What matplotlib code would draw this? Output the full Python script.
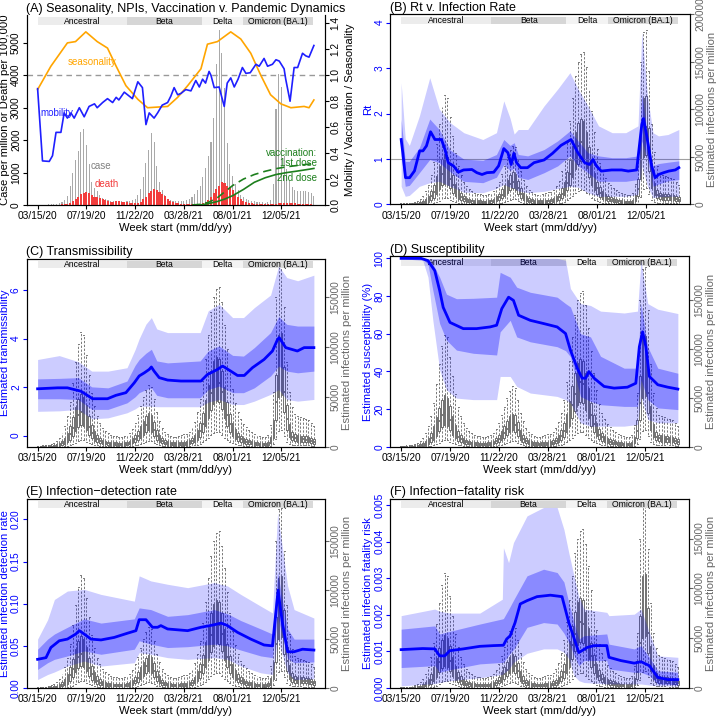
import numpy as np
import matplotlib.pyplot as plt

plt.rcParams['font.family'] = ['Liberation Sans', 'DejaVu Sans']

W, H = 717, 718

weeks = np.arange(103)
date_ticks = [0, 18, 36, 54, 72, 90]
date_labels = ['03/15/20', '07/19/20', '11/22/20', '03/28/21', '08/01/21', '12/05/21']

variant_names = ['Ancestral', 'Beta', 'Delta', 'Omicron (BA.1)']
variant_from = [0, 33, 60.7, 75.8]
variant_to = [33, 60.7, 75.8, 101.7]
variant_cols = ['#ececec', '#d6d6d6', '#f3f3f3', '#d9d9d9']

# ---- panel A: cases per million, deaths per 100,000 (weekly) ----
cases = [2, 5, 10, 15, 20, 25, 30, 40, 60, 90,
         150, 280, 600, 1000, 1400, 1650, 2250, 2340, 1850, 1250,
         700, 520, 420, 300, 220, 170, 140, 120, 120, 130,
         120, 110, 100, 110, 130, 160, 200, 300, 500, 850,
         1300, 1700, 2230, 1950, 1200, 700, 450, 300, 200, 150,
         120, 110, 110, 120, 130, 150, 190, 250, 330, 450,
         600, 850, 1150, 1500, 1930, 2690, 4330, 5390, 4690, 3600,
         1900, 1260, 900, 650, 450, 320, 240, 180, 150, 130,
         110, 100, 90, 80, 70, 80, 150, 650, 2950, 4030,
         3620, 1520, 1100, 750, 550, 460, 440, 440, 430, 420,
         400, 360, 270]
deaths = [0, 0, 1, 2, 3, 5, 8, 10, 15, 20,
          30, 45, 70, 110, 170, 250, 330, 380, 400, 370,
          320, 260, 240, 230, 190, 140, 110, 100, 100, 110,
          110, 100, 90, 80, 70, 60, 60, 70, 100, 170,
          260, 360, 440, 490, 460, 400, 350, 270, 180, 120,
          80, 60, 50, 40, 40, 35, 30, 30, 30, 35,
          40, 60, 100, 160, 250, 360, 480, 600, 710, 690,
          600, 540, 450, 350, 250, 170, 120, 90, 70, 55,
          45, 40, 35, 30, 30, 30, 30, 35, 45, 60,
          70, 75, 75, 70, 60, 50, 40, 35, 30, 25,
          20, 20, 15]

mob_wk = [0, 1.8, 4.3, 5.5, 6.8, 8.6, 9.8, 11, 12.3, 13.5, 15.4, 17.2, 19, 21, 22, 24, 25.8,
          27.7, 29, 30, 32, 33.8, 35, 37, 38.7, 40, 41.2, 43, 44.3, 46, 48, 49.2, 50.4, 51.7,
          52.9, 54.7, 56.6, 58.4, 59.7, 60.9, 62, 63.3, 64, 65.2, 67, 68.9, 70, 71.3, 72.6, 74,
          75.6, 76.9, 78.5, 80.6, 81.8, 83.6, 84.9, 86.7, 88, 89.2, 91, 91.6, 93.2, 94.7, 96,
          97.8, 99, 100.2, 102]
mobility = [0.897, 0.34, 0.336, 0.38, 0.56, 0.56, 0.71, 0.67, 0.71, 0.67, 0.75, 0.68, 0.76, 0.78,
            0.75, 0.79, 0.82, 0.79, 0.83, 0.81, 0.87, 0.84, 0.82, 0.95, 0.905, 0.62, 0.71, 0.67,
            0.71, 0.77, 0.79, 0.84, 0.905, 0.85, 0.86, 0.89, 0.88, 0.96, 0.91, 0.97, 0.94, 1.03,
            1.0, 0.905, 0.91, 0.76, 0.94, 0.98, 0.91, 0.97, 1.06, 1.015, 1.02, 1.085, 1.07, 1.13,
            1.07, 1.085, 1.12, 1.11, 1.05, 0.97, 0.80, 1.06, 1.06, 1.17, 1.15, 1.14, 1.23]

seas_wk = [0, 4.9, 11, 14, 17.8, 22, 25.8, 29, 32.6, 37, 40.6, 48, 51.7, 55.4, 60.3, 62.7,
           66.4, 71.3, 75, 78.7, 82.4, 86, 89.8, 93.5, 98.4, 100.2, 102]
seasonality = [0.89, 1.07, 1.25, 1.26, 1.335, 1.26, 1.21, 1.07, 0.92, 0.815, 0.75, 0.76, 0.83,
               0.92, 1.05, 1.24, 1.26, 1.335, 1.28, 1.17, 1.0, 0.85, 0.78, 0.75, 0.76, 0.75, 0.81]

vac1_wk = [57, 60, 63, 66, 69, 72, 76, 80, 84, 88, 92, 96, 100, 102]
vac1 = [0, 0.005, 0.02, 0.05, 0.10, 0.15, 0.20, 0.235, 0.26, 0.28, 0.295, 0.305, 0.315, 0.32]
vac2_wk = [60, 63, 66, 69, 72, 76, 80, 84, 88, 92, 96, 100, 102]
vac2 = [0, 0.01, 0.025, 0.045, 0.072, 0.12, 0.175, 0.21, 0.235, 0.25, 0.262, 0.275, 0.282]

# ---- estimated infections per million (thousands): weekly box stats ----
inf_med = [0.2, 0.2, 0.3, 0.3, 0.4, 0.6, 0.9, 1.4, 2.2, 3.5,
           5.5, 8.5, 13, 19, 26, 32, 35, 33, 27, 20,
           14, 10, 7.5, 5.5, 4.5, 3.8, 3.3, 3, 2.8, 2.7,
           2.6, 2.6, 2.8, 3.2, 4, 5.5, 7.5, 10.5, 14, 18,
           22, 24, 22, 17, 11, 7.5, 5.5, 4.2, 3.5, 3,
           2.8, 2.7, 2.8, 3, 3.2, 3.5, 4.2, 5.5, 7.5, 11,
           16, 23, 32, 43, 54, 62, 66, 64, 55, 43,
           32, 23, 17, 12.5, 9.5, 7.5, 6, 5, 4.3, 3.7,
           3.2, 2.9, 2.6, 2.4, 2.4, 3, 6, 16, 45, 80,
           82, 55, 28, 15, 10, 8.5, 8, 7.8, 7.5, 7.2,
           6.8, 6, 5]
inf_q1 = [0.1, 0.1, 0.1, 0.1, 0.2, 0.3, 0.4, 0.7, 1.1, 1.8,
          3, 4.5, 7, 11, 16, 20, 22, 21, 17, 12,
          8.5, 6, 4.5, 3.5, 2.8, 2.3, 2, 1.8, 1.7, 1.6,
          1.6, 1.6, 1.7, 2, 2.5, 3.4, 4.7, 6.5, 9, 12,
          15, 17, 15, 11, 7, 4.8, 3.4, 2.6, 2.1, 1.8,
          1.7, 1.6, 1.7, 1.8, 2, 2.1, 2.6, 3.4, 4.7, 7,
          10, 15, 21, 29, 37, 43, 46, 45, 38, 29,
          21, 15, 11, 8, 6, 4.8, 3.8, 3.2, 2.7, 2.3,
          2, 1.8, 1.6, 1.5, 1.5, 1.9, 3.5, 9, 27, 50,
          52, 35, 17, 9.5, 6.5, 5.5, 5.2, 5, 4.8, 4.6,
          4.4, 3.9, 3.2]
inf_q3 = [0.4, 0.4, 0.5, 0.6, 0.8, 1.1, 1.6, 2.5, 3.8, 6,
          9, 14, 21, 30, 40, 48, 53, 50, 42, 31,
          22, 16, 12, 9, 7.2, 6, 5.2, 4.8, 4.5, 4.3,
          4.2, 4.2, 4.5, 5, 6.2, 8.5, 11.5, 16, 21, 26,
          31, 34, 32, 25, 17, 12, 8.5, 6.6, 5.5, 4.8,
          4.4, 4.3, 4.5, 4.8, 5, 5.5, 6.6, 8.5, 11.5, 17,
          24, 34, 47, 62, 76, 86, 90, 88, 76, 60,
          45, 33, 24, 18, 14, 11, 9, 7.6, 6.6, 5.7,
          5, 4.5, 4.1, 3.8, 3.8, 4.8, 10, 27, 72, 112,
          114, 80, 42, 23, 15, 12.5, 11.5, 11, 10.8, 10.4,
          9.8, 8.8, 7.5]
inf_lo = [0, 0, 0, 0, 0, 0, 0, 0.1, 0.2, 0.3,
          0.5, 1, 1.5, 2.5, 4, 6, 7, 7, 5, 4,
          3, 2, 1.5, 1, 0.8, 0.7, 0.6, 0.5, 0.5, 0.5,
          0.5, 0.5, 0.5, 0.6, 0.7, 1, 1.4, 2, 2.8, 3.8,
          5, 6, 5.5, 4, 2.5, 1.6, 1.1, 0.8, 0.6, 0.5,
          0.5, 0.5, 0.5, 0.5, 0.6, 0.6, 0.8, 1, 1.4, 2,
          3, 4.5, 6.5, 9, 12, 14, 15, 15, 12, 9,
          7, 5, 3.5, 2.5, 2, 1.5, 1.2, 1, 0.8, 0.7,
          0.6, 0.5, 0.5, 0.4, 0.4, 0.5, 1, 3, 8, 16,
          17, 11, 5, 3, 2, 1.8, 1.7, 1.6, 1.5, 1.5,
          1.4, 1.2, 1]
inf_hi = [1, 1, 1.2, 1.5, 2, 3, 4, 6, 9, 14,
          21, 31, 45, 64, 85, 103, 115, 112, 92, 72,
          54, 41, 31, 24, 19, 16, 14, 12, 11, 11,
          10, 10, 11, 12, 14, 18, 24, 32, 41, 50,
          57, 62, 60, 48, 35, 26, 19, 15, 13, 11,
          10, 10, 11, 12, 13, 13, 15, 19, 25, 35,
          48, 66, 88, 112, 135, 150, 158, 160, 145, 122,
          98, 76, 58, 44, 35, 28, 23, 20, 17, 15,
          13, 12, 11, 10, 10, 12, 22, 55, 150, 182,
          184, 140, 85, 55, 40, 33, 31, 30, 29, 28,
          27, 24, 21]

# ---- panel B: Rt ----
b_band_wk = [0, 1.5, 3, 6.7, 10.5, 14, 18, 23, 30, 35, 37.7, 40, 41.5, 43, 46.5, 52.5, 57.5,
             62, 65, 68.6, 72.5, 77.5, 82.5, 87, 88.4, 90.5, 92.5, 94.5, 98, 102]
b_hi95 = [2.68, 1.45, 1.30, 1.95, 2.79, 2.10, 1.80, 1.58, 1.43, 1.58, 2.28, 1.90, 1.55, 1.65,
          1.65, 2.17, 2.54, 2.90, 2.54, 2.17, 1.73, 1.58, 1.58, 1.73, 3.79, 2.39, 1.58, 1.51,
          1.54, 1.65]
b_hi50 = [1.88, 0.95, 0.95, 1.25, 1.88, 1.65, 1.20, 1.00, 0.97, 1.10, 1.43, 1.30, 1.36, 1.10,
          1.07, 1.21, 1.40, 1.62, 1.40, 1.14, 1.07, 1.03, 1.03, 1.07, 2.43, 1.51, 0.85, 0.90,
          0.93, 0.96]
b_lo50 = [1.07, 0.40, 0.42, 0.70, 0.99, 0.92, 0.72, 0.51, 0.48, 0.60, 0.88, 0.75, 0.80, 0.60,
          0.55, 0.70, 0.85, 1.07, 0.85, 0.70, 0.51, 0.51, 0.51, 0.55, 1.40, 0.99, 0.40, 0.45,
          0.52, 0.55]
b_lo95 = [0.40, 0.18, 0.20, 0.40, 0.48, 0.51, 0.40, 0.27, 0.26, 0.35, 0.44, 0.38, 0.36, 0.30,
          0.26, 0.29, 0.35, 0.40, 0.38, 0.26, 0.18, 0.18, 0.18, 0.22, 0.85, 0.40, 0.15, 0.17,
          0.18, 0.18]
b_med_wk = [0, 0.6, 1.6, 3.1, 4.9, 6.8, 8, 9.3, 10.8, 12.4, 14.8, 16.1, 17.3, 19.2, 21, 22.9,
            26, 27.8, 29.7, 31.5, 34, 35.8, 37.7, 39.2, 40.4, 41.4, 42.4, 43.9, 46.4, 48.8, 52.5,
            55.6, 58.7, 62.4, 64.9, 67.4, 69.2, 70.5, 71.7, 73.5, 77.3, 81, 83.4, 86.5, 88.4, 89,
            90.2, 92, 93.3, 94.6, 96.4, 98.3, 100.7, 102]
b_med = [1.43, 1.14, 0.59, 0.59, 0.74, 1.18, 1.18, 1.29, 1.6, 1.43, 1.43, 1.21, 0.92, 0.85,
         0.71, 0.76, 0.77, 0.70, 0.66, 0.70, 0.71, 0.85, 1.23, 1.14, 0.88, 1.125, 0.92, 0.81,
         0.81, 0.92, 0.98, 1.125, 1.3, 1.43, 1.14, 0.92, 0.88, 0.99, 0.85, 0.735, 0.76, 0.76,
         0.735, 0.76, 1.76, 1.89, 1.51, 0.85, 0.59, 0.66, 0.70, 0.735, 0.76, 0.81]

# ---- panel C: transmissibility ----
c_band_wk = [0, 8, 15, 20, 26, 33, 36, 37.5, 40, 42, 44, 48, 60, 63, 67, 72, 76, 80, 86, 89,
             92, 96, 102]
c_hi95 = [3.14, 3.3, 3.05, 2.66, 2.66, 2.8, 3.55, 4.0, 4.6, 4.87, 4.4, 4.25, 4.25, 5.15, 5.42,
          4.87, 4.87, 5.28, 5.8, 7.0, 6.52, 6.39, 6.62]
c_hi50 = [2.34, 2.36, 2.39, 2.01, 1.97, 2.25, 2.9, 3.14, 3.4, 3.56, 3.08, 3.0, 3.08, 3.49, 3.70,
          3.31, 3.28, 3.63, 4.25, 4.91, 4.59, 4.52, 4.52]
c_lo50 = [1.52, 1.52, 1.49, 1.08, 1.08, 1.35, 1.6, 1.77, 1.9, 1.97, 1.66, 1.56, 1.56, 1.9, 2.04,
          1.77, 1.77, 1.97, 2.46, 2.87, 2.66, 2.59, 2.66]
c_lo95 = [1.0, 1.02, 1.08, 0.69, 0.73, 0.94, 1.1, 1.21, 1.21, 1.21, 1.19, 1.19, 1.19, 1.38, 1.49,
          1.28, 1.28, 1.42, 1.70, 1.9, 1.49, 1.42, 1.49]
c_med_wk = [0, 7.4, 11, 16, 20.3, 25.8, 28.9, 32.6, 35.7, 37.5, 39.4, 41.2, 42, 43, 44.9, 48,
            52.9, 60.3, 62.7, 66.4, 68.3, 71.3, 73.8, 76.3, 79.3, 83.6, 86.7, 88.6, 89.2, 91.6,
            95.9, 98.4, 102]
c_med = [1.93, 1.97, 1.97, 1.83, 1.52, 1.52, 1.66, 1.77, 2.18, 2.46, 2.59, 2.73, 2.83, 2.66,
         2.39, 2.29, 2.25, 2.25, 2.52, 2.73, 2.87, 2.66, 2.48, 2.48, 2.8, 3.14, 3.49, 3.97, 4.04,
         3.63, 3.49, 3.63, 3.63]

# ---- panel D: susceptibility (%) ----
d_band_wk = [0, 8, 9.9, 11.7, 14.2, 16.7, 20.4, 26.6, 35.2, 36.5, 40.2, 42.6, 47.6, 57.5, 60.6,
             62.4, 66.1, 69.8, 73.5, 82.2, 87.1, 88.4, 90.9, 94.6, 102]
d_hi95 = [100, 100, 100, 100, 100, 100, 100, 100, 100, 100, 100, 100, 100, 100, 99, 84, 76, 75,
          72, 71, 72, 98.8, 76, 73, 70.7]
d_hi50 = [100, 100, 99.5, 97, 90, 81, 78.6, 78.8, 79.4, 92.6, 90, 84.7, 82, 79.4, 76, 74.2, 60,
          58.3, 48, 41.7, 41.7, 76, 53, 41.7, 39]
d_lo50 = [100, 99.5, 97, 83, 65.4, 56.6, 51.3, 49.6, 48.7, 61, 67.1, 58.3, 55.7, 53.1, 51, 47.8,
          26.7, 24.1, 22.3, 21.4, 21.4, 35.5, 25, 20.6, 19.7]
d_lo95 = [100, 98.8, 90, 67, 40.8, 30.2, 25.8, 25, 25, 37.3, 37.3, 32, 28.5, 26.7, 25, 23.2, 12.7,
          10.9, 10.9, 10.9, 11.8, 26.7, 14.4, 12.7, 12.7]
d_med_wk = [0, 7.4, 9.9, 12.4, 14.2, 15.5, 18, 22.9, 27.8, 32.8, 35.2, 37.1, 39.6, 41.4, 43.3,
            47.6, 52.5, 57.5, 60.6, 62.4, 64.9, 66.7, 68, 69.2, 71.1, 74.8, 78.5, 83.4, 86.5, 87.8,
            89, 90.2, 91.5, 94.6, 98.3, 102]
d_med = [100, 100, 98.8, 93.5, 83, 74, 66, 62.7, 62.7, 63.6, 64.5, 73.3, 79.4, 77.7, 69.8, 67.1,
         65.4, 63.6, 60.1, 51.3, 41.7, 36.4, 36.4, 39.9, 36.4, 32, 31.1, 31.6, 33.7, 53.1, 61,
         53.1, 37.3, 32.9, 31.6, 30.6]

# ---- panel E: infection-detection rate ----
e_band_wk = [0, 3.7, 6.2, 11, 17.2, 23.4, 35.7, 37.5, 41.8, 48, 55.4, 65.2, 70.1, 75, 82.4, 86.7,
             88.6, 92.3, 94.7, 102]
e_hi95 = [0.058, 0.081, 0.105, 0.115, 0.117, 0.111, 0.103, 0.133, 0.127, 0.123, 0.119, 0.125,
          0.121, 0.111, 0.097, 0.089, 0.208, 0.121, 0.093, 0.083]
e_hi50 = [0.046, 0.058, 0.064, 0.072, 0.082, 0.077, 0.082, 0.095, 0.093, 0.085, 0.087, 0.093,
          0.088, 0.080, 0.070, 0.064, 0.137, 0.070, 0.058, 0.058]
e_lo50 = [0.022, 0.030, 0.034, 0.038, 0.044, 0.040, 0.046, 0.056, 0.052, 0.048, 0.049, 0.052,
          0.050, 0.045, 0.038, 0.036, 0.085, 0.035, 0.030, 0.031]
e_lo95 = [0.010, 0.016, 0.019, 0.026, 0.032, 0.026, 0.030, 0.042, 0.040, 0.036, 0.034, 0.036,
          0.034, 0.026, 0.018, 0.016, 0.058, 0.018, 0.010, 0.011]
e_med_wk = [0, 3.1, 4.9, 8, 11, 14.1, 15.4, 17.2, 19.7, 23.4, 28.3, 33.2, 36.3, 37.5, 40, 42.4,
            44.3, 45.5, 48, 55.4, 60.3, 65.2, 67.7, 70.1, 73.8, 78.7, 83.6, 86.7, 88.8, 89.4,
            90.4, 92.3, 94.7, 97.8, 102]
e_med = [0.034, 0.036, 0.048, 0.056, 0.058, 0.064, 0.068, 0.064, 0.058, 0.057, 0.060, 0.065,
         0.068, 0.081, 0.081, 0.072, 0.072, 0.074, 0.070, 0.068, 0.072, 0.075, 0.077, 0.074,
         0.066, 0.058, 0.051, 0.050, 0.116, 0.100, 0.077, 0.043, 0.043, 0.046, 0.045]

# ---- panel F: infection-fatality risk ----
f_band_wk = [0, 12.4, 14.2, 17.9, 29, 37.3, 37.7, 39.6, 41.4, 46.4, 52.5, 57.5, 60, 61.8, 63.7,
             65.5, 67.4, 75.8, 76.6, 85.9, 88.4, 91.5, 94.6, 102]
f_hi95 = [0.00198, 0.00216, 0.0021, 0.00205, 0.00205, 0.00243, 0.00384, 0.00343, 0.00398,
          0.00471, 0.00494, 0.00494, 0.00434, 0.0037, 0.00307, 0.0025, 0.00216, 0.00207, 0.00198,
          0.00202, 0.00216, 0.00152, 0.00088, 0.00084]
f_hi50 = [0.00161, 0.0017, 0.00148, 0.00155, 0.00175, 0.00189, 0.0019, 0.00215, 0.0024, 0.00307,
          0.00325, 0.00316, 0.0029, 0.00234, 0.0018, 0.00134, 0.00143, 0.00148, 0.0012, 0.00107,
          0.00116, 0.00084, 0.00047, 0.00043]
f_lo50 = [0.00056, 0.00061, 0.00043, 0.0005, 0.00066, 0.0007, 0.0007, 0.0009, 0.00105, 0.00166,
          0.00179, 0.00175, 0.0015, 0.00125, 0.0009, 0.00061, 0.00075, 0.00075, 0.00052, 0.00043,
          0.00043, 0.00034, 0.00011, 0.00009]
f_lo95 = [0.00006, 0.00012, 0.00015, 0.0002, 0.00028, 0.00037, 0.0004, 0.0005, 0.0007, 0.00095,
          0.00107, 0.00107, 0.00098, 0.0008, 0.00034, 0.0002, 0.00015, 0.00011, 0.00011, 0.00011,
          0.00011, 0.00008, 0.00006, 0.00005]
f_med_wk = [0, 8, 12.4, 14.2, 16.1, 17.9, 22.9, 29, 34, 37.7, 38.9, 40.2, 42, 43.9, 46.4, 50.1,
            55, 59.3, 61.8, 65.5, 68.6, 71.1, 75.8, 76.6, 81, 85.9, 88.4, 91.5, 94.6, 98.3, 102]
f_med = [0.00105, 0.00108, 0.00107, 0.00088, 0.00088, 0.00102, 0.00107, 0.00114, 0.00116,
         0.00117, 0.00134, 0.00143, 0.00179, 0.00230, 0.00239, 0.00250, 0.00254, 0.00250,
         0.00179, 0.00097, 0.00111, 0.00116, 0.00116, 0.00084, 0.00075, 0.00068, 0.00072,
         0.00061, 0.00029, 0.00023, 0.00023]

BOXGRAY = '#707070'
RGRAY = '#666666'
FS_TICK = 7.3
FS_LAB = 8.1


def rect(x0, y0, x1, y1):
    return [x0 / W, 1 - y1 / H, (x1 - x0) / W, (y1 - y0) / H]


def draw_variants(ax):
    tr = ax.get_xaxis_transform()
    for name, a, b, c in zip(variant_names, variant_from, variant_to, variant_cols):
        ax.axvspan(a, b, ymin=0.949, ymax=0.987, color=c, lw=0, zorder=0.5)
        ax.text((a + b) / 2, 0.968, name, transform=tr, ha='center', va='center',
                fontsize=6.2, zorder=0.6)


def style_x(ax):
    ax.set_xlim(-4.1, 106.1)
    ax.set_xticks(date_ticks)
    ax.set_xticklabels(date_labels)
    ax.tick_params(axis='x', labelsize=FS_TICK, length=3, width=0.8, pad=1.5)
    ax.set_xlabel('Week start (mm/dd/yy)', fontsize=FS_LAB, labelpad=1.5)


def style_y(ax, ticks, labels, color, side):
    ax.set_yticks(ticks)
    ax.set_yticklabels(labels)
    ax.tick_params(axis='y', labelsize=FS_TICK, length=3, width=0.8, pad=1,
                   colors=color)
    for lab in ax.get_yticklabels():
        lab.set_rotation(90)
        lab.set_va('center')
        lab.set_ha('right' if side == 'left' else 'left')


fig = plt.figure(figsize=(W / 100, H / 100), dpi=100)

# ================= panel A =================
axA = fig.add_axes(rect(26.5, 15, 325, 205))
axA2 = axA.twinx()
axA.bar(weeks, cases, width=0.4, color='#a9a9a9', zorder=2)
axA.bar(weeks, deaths, width=0.75, color='#f23c3c', zorder=3)
axA.set_ylim(0, 5850)
draw_variants(axA)
style_x(axA)
style_y(axA, [0, 1000, 2000, 3000, 4000, 5000], ['0', '1000', '2000', '3000', '4000', '5000'],
        'black', 'left')
axA.set_ylabel('Case per million or Death per 100,000', fontsize=FS_LAB, labelpad=1)
axA.set_title('(A) Seasonality, NPIs, Vaccination v. Pandemic Dynamics', loc='left',
              fontsize=9, pad=2.5)

axA2.set_ylim(0, 1.465)
axA2.axhline(1.0, color='#999999', ls=(0, (4, 3)), lw=1)
axA2.plot(seas_wk, seasonality, color='orange', lw=1.2)
axA2.plot(mob_wk, mobility, color='#1f1fff', lw=1.2)
axA2.plot(vac1_wk, vac1, color='#1d7f1d', lw=1.2, ls=(0, (5, 3)))
axA2.plot(vac2_wk, vac2, color='#1d7f1d', lw=1.2)
style_y(axA2, [0, 0.2, 0.4, 0.6, 0.8, 1.0, 1.2, 1.4],
        ['0.0', '0.2', '0.4', '0.6', '0.8', '1.0', '1.2', '1.4'], 'black', 'right')
axA2.set_ylabel('Mobility / Vaccination / Seasonality', fontsize=FS_LAB, labelpad=3)
for sp in (axA.spines['top'], axA2.spines['top']):
    sp.set_visible(False)
axA2.text(11.2, 1.10, 'seasonality', color='orange', fontsize=7, va='center')
axA2.text(1.2, 0.71, 'mobility', color='#1f1fff', fontsize=7, va='center')
axA2.text(19.7, 0.30, 'case', color='#808080', fontsize=7, va='center')
axA2.text(21.2, 0.16, 'death', color='#f23c3c', fontsize=7, va='center')
axA2.text(103.1, 0.40, 'vaccination:', color='#1d7f1d', fontsize=7, va='center', ha='right')
axA2.text(103.1, 0.32, '1st dose', color='#1d7f1d', fontsize=7, va='center', ha='right')
axA2.text(103.1, 0.21, '2nd dose', color='#1d7f1d', fontsize=7, va='center', ha='right')


# ================= estimate panels =================
def est_panel(px, title, ylabel, ylim, yt, ytl, bwk, lo95, lo50, hi50, hi95, mwk, med,
              rtop, rticks, hline=None):
    ax = fig.add_axes(rect(*px))
    axR = ax.twinx()
    stats = [dict(med=m * 1e3, q1=a * 1e3, q3=b * 1e3, whislo=l * 1e3, whishi=h * 1e3)
             for m, a, b, l, h in zip(inf_med, inf_q1, inf_q3, inf_lo, inf_hi)]
    axR.bxp(stats, positions=weeks, widths=0.55, capwidths=0.35, showfliers=False,
            manage_ticks=False,
            boxprops=dict(color=BOXGRAY, lw=0.7),
            whiskerprops=dict(color=BOXGRAY, lw=0.65, ls=(0, (2.5, 1.8))),
            capprops=dict(color=BOXGRAY, lw=0.65),
            medianprops=dict(color=BOXGRAY, lw=1.3))
    axR.set_ylim(0, rtop)
    style_y(axR, rticks, [str(t) for t in rticks], RGRAY, 'right')
    axR.set_ylabel('Estimated infections per million', fontsize=FS_LAB, color=RGRAY,
                   labelpad=1)

    ax.set_zorder(axR.get_zorder() + 1)
    ax.patch.set_visible(False)
    draw_variants(ax)
    if hline is not None:
        ax.axhline(hline, color='#a0a0a0', lw=0.8, zorder=1)
    ax.fill_between(bwk, lo95, hi95, color='blue', alpha=0.2, lw=0, zorder=1)
    ax.fill_between(bwk, lo50, hi50, color='blue', alpha=0.32, lw=0, zorder=1.1)
    ax.plot(mwk, med, color='blue', lw=2, zorder=3)
    ax.set_ylim(*ylim)
    style_x(ax)
    style_y(ax, yt, ytl, 'blue', 'left')
    ax.set_ylabel(ylabel, fontsize=FS_LAB, color='blue', labelpad=1)
    ax.set_title(title, loc='left', fontsize=9, pad=2.5)
    for a in (ax, axR):
        for sp in a.spines.values():
            sp.set_linewidth(0.8)


r150 = [0, 50000, 100000, 150000]
est_panel((390, 14.5, 690, 204.5), '(B) Rt v. Infection Rate', 'Rt', (0, 4.18),
          [0, 1, 2, 3, 4], ['0', '1', '2', '3', '4'],
          b_band_wk, b_lo95, b_lo50, b_hi50, b_hi95, b_med_wk, b_med,
          200000, [0, 50000, 100000, 150000, 200000], hline=1)
est_panel((26.5, 258.7, 325, 446.7), '(C) Transmissibility', 'Estimated transmissibility',
          (-0.46, 7.3), [0, 2, 4, 6], ['0', '2', '4', '6'],
          c_band_wk, c_lo95, c_lo50, c_hi50, c_hi95, c_med_wk, c_med, 188000, r150)
est_panel((390, 256.5, 689, 446.7), '(D) Susceptibility', 'Estimated susceptibility (%)',
          (0, 101), [0, 20, 40, 60, 80, 100], ['0', '20', '40', '60', '80', '100'],
          d_band_wk, d_lo95, d_lo50, d_hi50, d_hi95, d_med_wk, d_med, 195000, r150)
est_panel((26.5, 498.7, 325, 688), '(E) Infection\u2212detection rate',
          'Estimated infection detection rate', (0, 0.2245),
          [0, 0.05, 0.10, 0.15, 0.20], ['0.00', '0.05', '0.10', '0.15', '0.20'],
          e_band_wk, e_lo95, e_lo50, e_hi50, e_hi95, e_med_wk, e_med, 193000, r150)
est_panel((390, 498.7, 689, 688), '(F) Infection\u2212fatality risk',
          'Estimated infection fatality risk', (0, 0.00518),
          [0, 0.001, 0.002, 0.003, 0.004, 0.005],
          ['0.000', '0.001', '0.002', '0.003', '0.004', '0.005'],
          f_band_wk, f_lo95, f_lo50, f_hi50, f_hi95, f_med_wk, f_med, 190000, r150)

fig.savefig('out.png', dpi=100)
